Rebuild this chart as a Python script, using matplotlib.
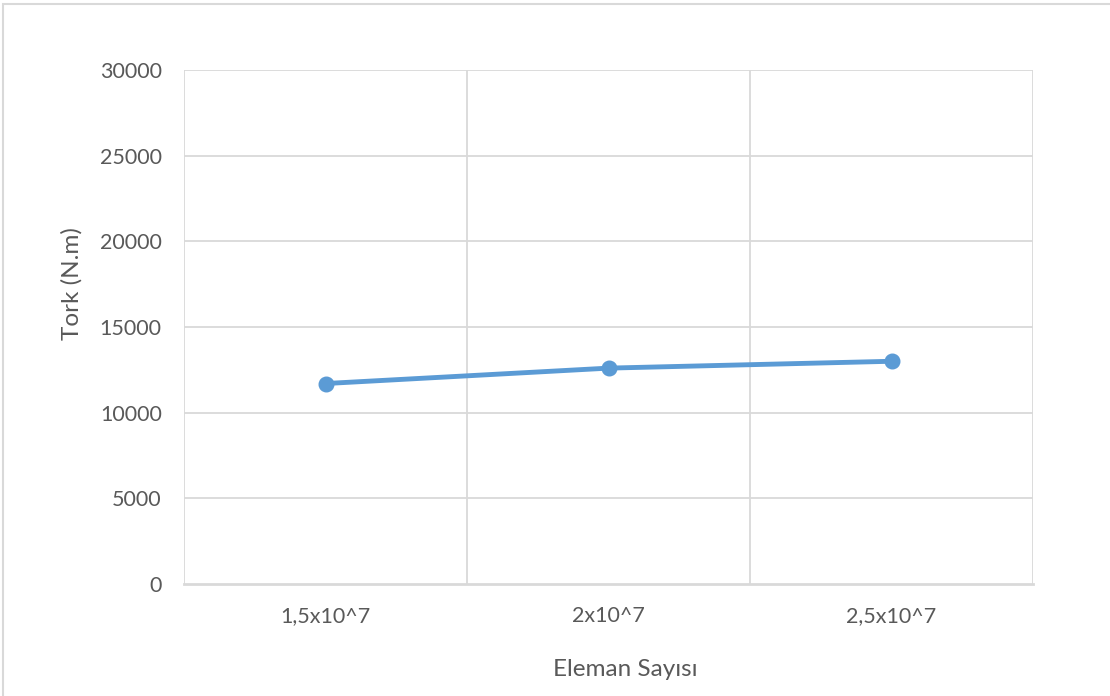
import matplotlib.pyplot as plt
from matplotlib.patches import Rectangle

# Torque vs. element count
categories = ['1,5x10^7', '2x10^7', '2,5x10^7']
torque = [11700, 12600, 13000]
y_ticks = [0, 5000, 10000, 15000, 20000, 25000, 30000]

plt.rcParams['font.family'] = ['Lato', 'DejaVu Sans']
text_color = '#595959'
grid_color = '#D9D9D9'

W, H = 1110, 696
left, right, top, bottom = 184, 1033, 70, 584

fig = plt.figure(figsize=(W / 100, H / 100), dpi=100)
ax = fig.add_axes([left / W, 1 - bottom / H, (right - left) / W, (bottom - top) / H])

# outer chart frame
fig.patches.append(Rectangle((3 / W, -0.1), 1.2, 1 - 4 / H + 0.1,
                             transform=fig.transFigure, fill=False,
                             edgecolor='#D9D9D9', linewidth=1.5))

x = list(range(len(categories)))
ax.plot(x, torque, color='#5B9BD5', linewidth=3.5, marker='o', markersize=10.5,
        solid_capstyle='round', zorder=3)

ax.set_xlim(-0.5, len(categories) - 0.5)
ax.set_ylim(0, 30000)
ax.set_yticks(y_ticks)
ax.set_yticklabels([str(v) for v in y_ticks])
ax.set_xticks(x)
ax.set_xticklabels(categories)

# horizontal grid on value ticks, vertical grid on category boundaries
for v in y_ticks[1:]:
    ax.axhline(v, color=grid_color, linewidth=1.3, zorder=1)
for b in [i - 0.5 for i in x] + [x[-1] + 0.5]:
    ax.axvline(b, color=grid_color, linewidth=1.3, zorder=1)

for side in ['top', 'right', 'left']:
    ax.spines[side].set_visible(False)
ax.spines['bottom'].set_color(grid_color)
ax.spines['bottom'].set_linewidth(2)

ax.tick_params(axis='both', length=0, labelsize=15.5, colors=text_color)
ax.tick_params(axis='y', pad=16)
ax.tick_params(axis='x', pad=16)

ax.set_ylabel('Tork (N.m)', fontsize=17.5, color=text_color, va='center')
ax.yaxis.set_label_coords((72 - left) / (right - left), (bottom - 284) / (bottom - top))
ax.set_xlabel('Eleman Sayısı', fontsize=17.5, color=text_color, va='center')
ax.xaxis.set_label_coords((625 - left) / (right - left), (bottom - 669) / (bottom - top))

fig.savefig('out.png', dpi=100)
